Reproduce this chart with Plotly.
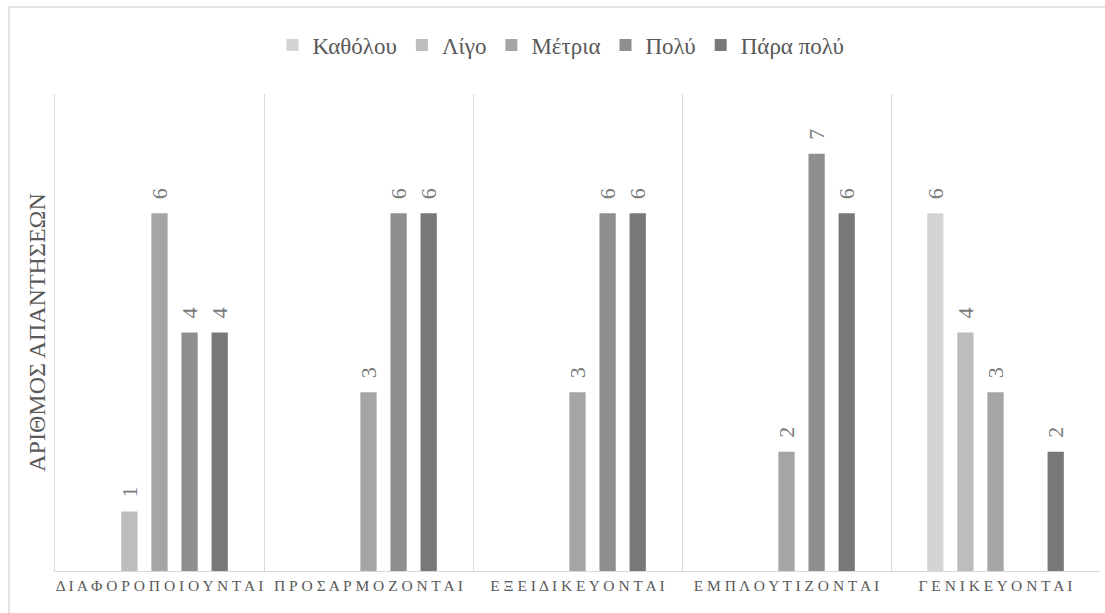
import plotly.graph_objects as go

categories = ["ΔΙΑΦΟΡΟΠΟΙΟΥΝΤΑΙ", "ΠΡΟΣΑΡΜΟΖΟΝΤΑΙ", "ΕΞΕΙΔΙΚΕΥΟΝΤΑΙ", "ΕΜΠΛΟΥΤΙΖΟΝΤΑΙ", "ΓΕΝΙΚΕΥΟΝΤΑΙ"]
series_names = ["Καθόλου", "Λίγο", "Μέτρια", "Πολύ", "Πάρα πολύ"]
kathólou = [0, 0, 0, 0, 6]
ligo = [1, 0, 0, 0, 4]
metria = [6, 3, 3, 2, 3]
poly = [4, 6, 6, 7, 0]
para_poly = [4, 6, 6, 6, 2]
values = [kathólou, ligo, metria, poly, para_poly]
colors = ["#d4d4d4", "#bdbdbd", "#a5a5a5", "#8e8e8e", "#787878"]
y_title = "ΑΡΙΘΜΟΣ ΑΠΑΝΤΗΣΕΩΝ"

FONT = "Liberation Serif"
TXT = "#595959"

def spaced(s):
    return " ".join(list(s))

tick_text = [spaced(c) for c in categories]

fig = go.Figure()
for name, vals, col in zip(series_names, values, colors):
    fig.add_trace(go.Bar(
        name=name, x=categories, y=vals,
        marker=dict(color=col, line=dict(width=0)),
        text=["\u2002" + str(v) if v else "" for v in vals],
        textposition="outside", textangle=-90,
        textfont=dict(family=FONT, size=22, color="#7a7a7a"),
        cliponaxis=False, constraintext="none",
    ))

W, H = 1105, 613
L, R, T, B = 55, 5, 94, 42
pw, ph = W - L - R, H - T - B

def px_x(p):
    return (p - L) / pw

def px_y(p):
    return (H - B - p) / ph

fig.update_layout(
    width=W, height=H,
    margin=dict(l=L, r=R, t=T, b=B, autoexpand=False),
    paper_bgcolor="white", plot_bgcolor="white",
    barmode="group", bargap=0.28, bargroupgap=0.46,
    font=dict(family=FONT, color=TXT),
    showlegend=True,
    legend=dict(orientation="h", x=px_x(561), xanchor="center",
                y=px_y(45), yanchor="middle",
                font=dict(family=FONT, size=23, color=TXT),
                itemwidth=30, traceorder="normal"),
    xaxis=dict(type="category", tickmode="array", tickvals=categories, ticktext=tick_text,
               tickson="boundaries", ticks="", showgrid=True, gridcolor="#d9d9d9", gridwidth=1,
               showline=True, linecolor="#d9d9d9", linewidth=1, tickangle=0, automargin=False,
               tickfont=dict(family=FONT, size=15.5, color=TXT), fixedrange=True),
    yaxis=dict(range=[0, 8], showticklabels=False, showgrid=False, zeroline=False,
               showline=True, linecolor="#d9d9d9", linewidth=1, automargin=False,
               title=dict(text=y_title, font=dict(family=FONT, size=24, color=TXT), standoff=1)),
    shapes=[dict(type="rect", xref="paper", yref="paper",
                 x0=px_x(9), x1=px_x(1110), y0=px_y(620), y1=px_y(7),
                 line=dict(color="#d9d9d9", width=1.5), fillcolor="rgba(0,0,0,0)", layer="below")],
)

fig.write_html("out.html")
